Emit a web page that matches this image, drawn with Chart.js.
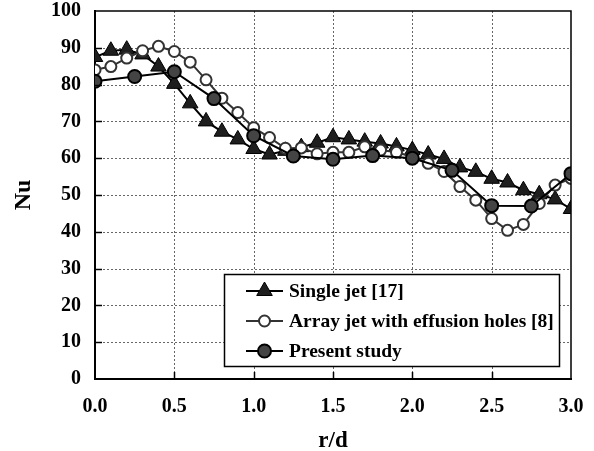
<!DOCTYPE html>
<html>
<head>
<meta charset="utf-8">
<script src="https://cdn.jsdelivr.net/npm/chart.js@4/dist/chart.umd.min.js"></script>
<style>
  html, body { margin: 0; padding: 0; background: #fff; overflow: hidden; }
  #wrap { width: 594px; height: 451px; position: relative; }
  canvas { display: block; }
</style>
</head>
<body>
<div id="wrap"><canvas id="chart" width="594" height="451"></canvas></div>
<script>
// r/d positions and Nu values
const rSingle = [0.0, 0.1, 0.2, 0.3, 0.4, 0.5, 0.6, 0.7, 0.8, 0.9, 1.0,
  1.1, 1.2, 1.3, 1.4, 1.5, 1.6, 1.7, 1.8, 1.9, 2.0,
  2.1, 2.2, 2.3, 2.4, 2.5, 2.6, 2.7, 2.8, 2.9, 3.0]
const nuSingle = [87.5, 89.2, 89.5, 88.2, 84.9, 80.2, 74.9, 70.0, 67.2, 65.1, 62.5,
  61.0, 62.0, 63.0, 64.2, 65.7, 65.1, 64.5, 64.0, 63.2, 62.2,
  61.0, 59.8, 57.5, 56.3, 54.4, 53.4, 51.3, 50.2, 48.8, 46.2]

const rArray = rSingle
const nuArray = [84.0, 84.9, 87.2, 89.2, 90.4, 89.0, 86.1, 81.3, 76.3, 72.4, 68.3,
  65.6, 62.7, 62.8, 61.2, 61.6, 61.6, 63.1, 62.2, 61.6, 60.4,
  58.6, 56.4, 52.3, 48.6, 43.6, 40.4, 42.0, 47.7, 52.7, 54.5]

const rPresent = [0.0, 0.25, 0.5, 0.75, 1.0, 1.25, 1.5, 1.75, 2.0, 2.25, 2.5, 2.75, 3.0]
const nuPresent = [80.9, 82.2, 83.5, 76.2, 66.1, 60.6, 59.7, 60.7, 60.0, 56.7, 47.1, 47.0, 55.8]

const labels = ['Single jet [17]', 'Array jet with effusion holes [8]', 'Present study']

const FONT = "'Liberation Serif', 'Times New Roman', serif"

const toXY = (xs, ys) => xs.map((x, i) => ({ x: x, y: ys[i] }))

// drop the label overflow padding so layout.padding alone places the frame
const noOverflow = (s) => {
  s.paddingTop = 0
  s.paddingBottom = 0
  s.paddingLeft = 0
  s.paddingRight = 0
}

// dotted grid behind the lines
const gridPlugin = {
  id: 'dotgrid',
  beforeDatasetsDraw(chart) {
    const { ctx, chartArea: a, scales } = chart
    ctx.save()
    ctx.strokeStyle = '#666'
    ctx.lineWidth = 1
    ctx.setLineDash([2, 2])
    for (let v = 0.5; v < 3; v += 0.5) {
      const px = Math.round(scales.x.getPixelForValue(v)) + 0.5
      ctx.beginPath(); ctx.moveTo(px, a.top); ctx.lineTo(px, a.bottom); ctx.stroke()
    }
    for (let v = 10; v < 100; v += 10) {
      const py = Math.round(scales.y.getPixelForValue(v)) + 0.5
      ctx.beginPath(); ctx.moveTo(a.left, py); ctx.lineTo(a.right, py); ctx.stroke()
    }
    ctx.restore()
  }
}

// border on top/right, short inward ticks, and the boxed legend
const framePlugin = {
  id: 'frame',
  afterDraw(chart) {
    const { ctx, chartArea: a, scales } = chart
    ctx.save()
    ctx.strokeStyle = '#000'
    ctx.lineWidth = 1.5
    ctx.beginPath()
    ctx.moveTo(a.left, a.top)
    ctx.lineTo(a.right, a.top)
    ctx.lineTo(a.right, a.bottom)
    ctx.stroke()

    ctx.lineWidth = 1.5
    for (let v = 0.5; v < 3; v += 0.5) {
      const px = Math.round(scales.x.getPixelForValue(v)) + 0.5
      ctx.beginPath(); ctx.moveTo(px, a.bottom); ctx.lineTo(px, a.bottom - 7); ctx.stroke()
    }
    for (let v = 10; v < 100; v += 10) {
      const py = Math.round(scales.y.getPixelForValue(v)) + 0.5
      ctx.beginPath(); ctx.moveTo(a.left, py); ctx.lineTo(a.left + 7, py); ctx.stroke()
    }

    // legend box
    const bx = 224.5, by = 274.5, bw = 335, bh = 92
    ctx.fillStyle = '#fff'
    ctx.fillRect(bx, by, bw, bh)
    ctx.lineWidth = 1.5
    ctx.strokeStyle = '#000'
    ctx.strokeRect(bx, by, bw, bh)

    const rows = [291, 321, 351]
    chart.data.datasets.forEach((ds, i) => {
      const y = rows[i]
      ctx.strokeStyle = ds.borderColor
      ctx.lineWidth = 2
      ctx.beginPath(); ctx.moveTo(246, y); ctx.lineTo(283, y); ctx.stroke()
      ctx.fillStyle = ds.pointBackgroundColor
      ctx.strokeStyle = ds.pointBorderColor
      ctx.lineWidth = ds.pointBorderWidth
      Chart.helpers.drawPoint(ctx, {
        pointStyle: ds.pointStyle, radius: ds.pointRadius, rotation: 0, borderWidth: ds.pointBorderWidth
      }, 264.5, y)
      ctx.fillStyle = '#000'
      ctx.font = 'bold 19.5px ' + FONT
      ctx.textBaseline = 'middle'
      ctx.textAlign = 'left'
      ctx.fillText(ds.label, 289, y + 1)
    })
    ctx.restore()
  }
}

new Chart(document.getElementById('chart'), {
  type: 'line',
  data: {
    datasets: [
      {
        label: labels[0],
        data: toXY(rSingle, nuSingle),
        borderColor: '#000',
        borderWidth: 2,
        pointStyle: 'triangle',
        pointRadius: 9,
        pointBackgroundColor: '#1e1e1e',
        pointBorderColor: '#000',
        pointBorderWidth: 1,
        tension: 0,
        order: 3
      },
      {
        label: labels[1],
        data: toXY(rArray, nuArray),
        borderColor: '#333',
        borderWidth: 2,
        pointStyle: 'circle',
        pointRadius: 5.5,
        pointBackgroundColor: '#fff',
        pointBorderColor: '#333',
        pointBorderWidth: 2,
        tension: 0,
        order: 2
      },
      {
        label: labels[2],
        data: toXY(rPresent, nuPresent),
        borderColor: '#000',
        borderWidth: 2,
        pointStyle: 'circle',
        pointRadius: 6.5,
        pointBackgroundColor: '#444',
        pointBorderColor: '#000',
        pointBorderWidth: 2,
        tension: 0,
        order: 1
      }
    ]
  },
  options: {
    responsive: false,
    animation: false,
    layout: { padding: { top: 11, right: 23, left: 0, bottom: 0 } },
    plugins: {
      legend: { display: false },
      tooltip: { enabled: false }
    },
    scales: {
      x: {
        type: 'linear',
        min: 0,
        max: 3,
        afterFit: (s) => { s.height = 72; noOverflow(s) },
        ticks: {
          stepSize: 0.5,
          padding: 16,
          color: '#000',
          font: { family: FONT, size: 20, weight: 'bold' },
          callback: (v) => v.toFixed(1)
        },
        grid: { display: false, drawTicks: false },
        border: { display: true, color: '#000', width: 2 },
        title: {
          display: true,
          text: 'r/d',
          color: '#000',
          font: { family: FONT, size: 23, weight: 'bold', lineHeight: 0.85 },
          padding: { top: 0, bottom: 0 }
        }
      },
      y: {
        min: 0,
        max: 100,
        afterFit: (s) => { s.width = 95; noOverflow(s) },
        ticks: {
          stepSize: 10,
          padding: 14,
          color: '#000',
          font: { family: FONT, size: 20, weight: 'bold' }
        },
        grid: { display: false, drawTicks: false },
        border: { display: true, color: '#000', width: 2 },
        title: {
          display: true,
          text: 'Nu',
          color: '#000',
          font: { family: FONT, size: 24, weight: 'bold', lineHeight: 1.2 },
          padding: { top: 9, bottom: 0 }
        }
      }
    }
  },
  plugins: [gridPlugin, framePlugin]
})
</script>
</body>
</html>
